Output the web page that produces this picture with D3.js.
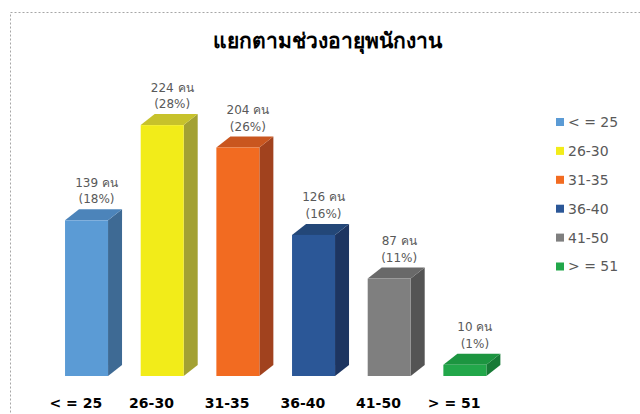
<!DOCTYPE html>
<html><head><meta charset="utf-8">
<script src="https://cdn.jsdelivr.net/npm/d3@7"></script>
<style>
html,body{margin:0;padding:0;background:#fff;}
svg{display:block;}
</style></head>
<body>
<script>
const categories = ["< = 25","26-30","31-35","36-40","41-50","> = 51"];
const values = [139,224,204,126,87,10];
const percents = ["18%","28%","26%","16%","11%","1%"];
const frontColors = ["#5B9BD5","#F2EC19","#F26B21","#2B5797","#7F7F7F","#22A74A"];
const sideColors  = ["#3E6A94","#A3A133","#A1421E","#1D3561","#545454","#177A36"];
const topColors   = ["#4C84BA","#C7C22B","#C9561F","#234778","#696969","#1C9540"];
const title = "แยกตามช่วงอายุพนักงาน";

const W=640,H=414;
const svg=d3.select("body").append("svg").attr("width",W).attr("height",H);

// dotted outer border
svg.append("rect").attr("x",10.5).attr("y",12.5).attr("width",W).attr("height",H)
  .attr("fill","none").attr("stroke","#a6a6a6").attr("stroke-width",1).attr("stroke-dasharray","2,2");

svg.append("text").attr("x",327).attr("y",48).attr("text-anchor","middle")
  .attr("font-family","Noto Sans, DejaVu Sans, sans-serif").attr("font-weight","bold")
  .attr("font-size",21).attr("fill","#000").text(title);

const x=d3.scaleBand().domain(categories).range([38,492]);
const y=d3.scaleLinear().domain([0,250]).range([376,96]);
const base=y(0);
const bw=43, dx=14, dy=11;

const g=svg.append("g");
categories.forEach((c,i)=>{
  const x0=x(c)+x.bandwidth()/2+10.7-bw/2, x1=x0+bw;
  const yt=y(values[i]);
  // side
  g.append("path").attr("d",`M${x1},${yt}L${x1+dx},${yt-dy}L${x1+dx},${base-dy}L${x1},${base}Z`).attr("fill",sideColors[i]);
  // top
  g.append("path").attr("d",`M${x0},${yt}L${x0+dx},${yt-dy}L${x1+dx},${yt-dy}L${x1},${yt}Z`).attr("fill",topColors[i]);
  // front
  g.append("rect").attr("x",x0).attr("y",yt).attr("width",bw).attr("height",base-yt).attr("fill",frontColors[i]);
  // labels
  const cx=x0+bw/2+10;
  g.append("text").attr("text-anchor","middle").attr("font-family","DejaVu Sans, sans-serif")
    .attr("font-size",12).attr("fill","#595959").attr("x",cx).attr("y",yt-dy-22.5).text(values[i]+" คน");
  g.append("text").attr("text-anchor","middle").attr("font-family","DejaVu Sans, sans-serif")
    .attr("font-size",12).attr("fill","#595959").attr("x",cx).attr("y",yt-dy-6).text("("+percents[i]+")");
});

// x axis labels
const xa=svg.append("g").attr("transform",`translate(0,${base})`)
  .call(d3.axisBottom(x).tickSize(0).tickPadding(22));
xa.select(".domain").remove();
xa.selectAll("text").attr("font-family","DejaVu Sans, sans-serif").attr("font-weight","bold")
  .attr("font-size",14).attr("fill","#000").attr("dy","0.7em");

// legend
const lg=svg.append("g");
categories.forEach((c,i)=>{
  const ly=122+i*28.9;
  lg.append("rect").attr("x",556).attr("y",ly-4).attr("width",8).attr("height",8).attr("fill",frontColors[i]);
  lg.append("text").attr("x",568).attr("y",ly).attr("dy","0.35em").attr("font-family","DejaVu Sans, sans-serif")
    .attr("font-size",14).attr("fill","#595959").text(c);
});
</script>
</body></html>
